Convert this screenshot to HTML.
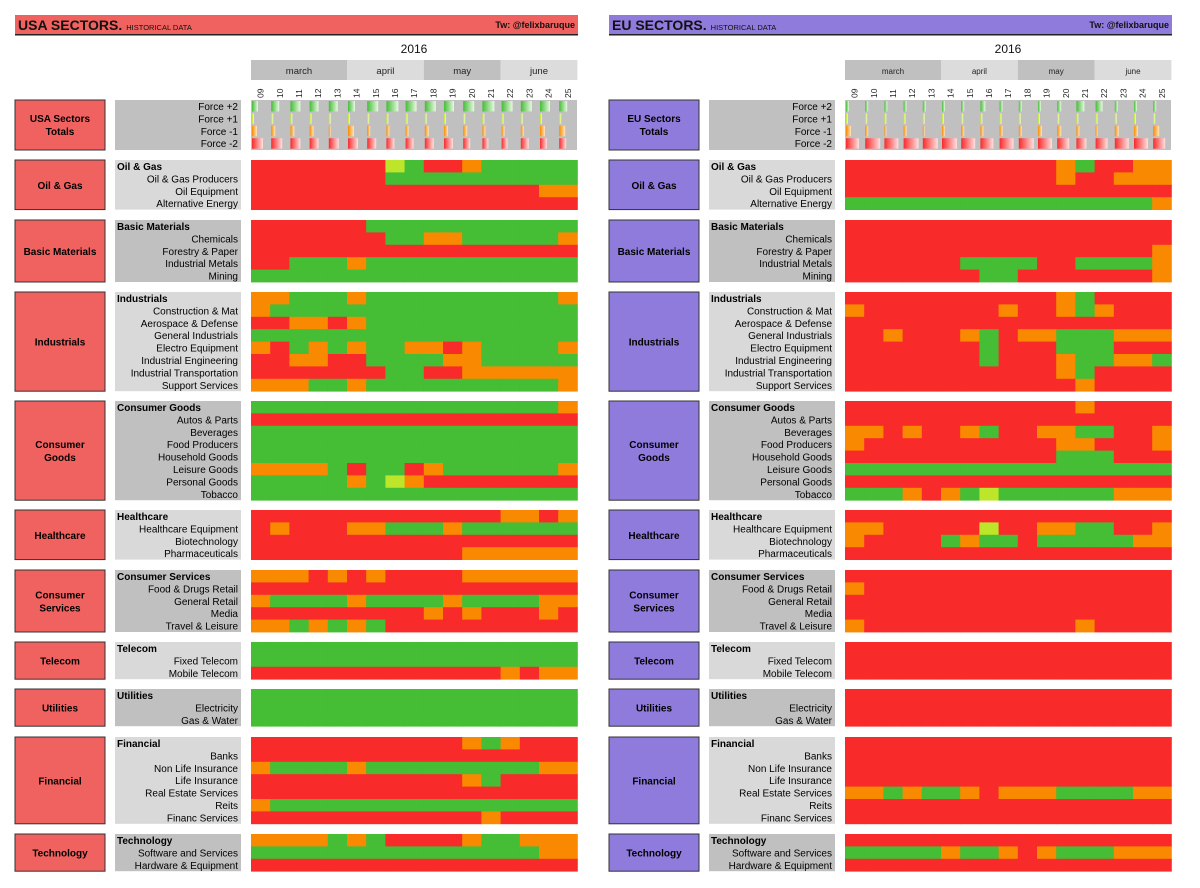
<!DOCTYPE html>
<html><head><meta charset="utf-8"><style>
html,body{margin:0;padding:0;background:#fff;width:1200px;height:888px;overflow:hidden}
svg{display:block;font-family:"Liberation Sans",sans-serif}
</style></head><body>
<svg id="c" width="1200" height="888" xmlns="http://www.w3.org/2000/svg">
<defs>
<linearGradient id="gG" x1="0" x2="1"><stop offset="0" stop-color="#45bd35"/><stop offset="1" stop-color="#e8f8e4"/></linearGradient>
<linearGradient id="gY" x1="0" x2="1"><stop offset="0" stop-color="#bde52a"/><stop offset="1" stop-color="#f0fac8"/></linearGradient>
<linearGradient id="gO" x1="0" x2="1"><stop offset="0" stop-color="#f98a00"/><stop offset="1" stop-color="#ffe6c0"/></linearGradient>
<linearGradient id="gR" x1="0" x2="1"><stop offset="0" stop-color="#f92a2a"/><stop offset="1" stop-color="#ffe0e0"/></linearGradient>
</defs>
</svg>
<script>
const weeks=["09","10","11","12","13","14","15","16","17","18","19","20","21","22","23","24","25"];
const months=["march","april","may","june"];
const monthSpans=[5,4,4,4];
const groupNames=["Oil & Gas","Basic Materials","Industrials","Consumer Goods","Healthcare","Consumer Services","Telecom","Utilities","Financial","Technology"];
const groupBoxNames=["Oil & Gas","Basic Materials","Industrials","Consumer|Goods","Healthcare","Consumer|Services","Telecom","Utilities","Financial","Technology"];
const subNames=[
["Oil & Gas Producers","Oil Equipment","Alternative Energy"],
["Chemicals","Forestry & Paper","Industrial Metals","Mining"],
["Construction & Mat","Aerospace & Defense","General Industrials","Electro Equipment","Industrial Engineering","Industrial Transportation","Support Services"],
["Autos & Parts","Beverages","Food Producers","Household Goods","Leisure Goods","Personal Goods","Tobacco"],
["Healthcare Equipment","Biotechnology","Pharmaceuticals"],
["Food & Drugs Retail","General Retail","Media","Travel & Leisure"],
["Fixed Telecom","Mobile Telecom"],
["Electricity","Gas & Water"],
["Banks","Non Life Insurance","Life Insurance","Real Estate Services","Reits","Financ Services"],
["Software and Services","Hardware & Equipment"]];
// R=strong negative, O=negative, G=positive, Y=strong positive
const usaStates=[
["RRRRRRRYGRROGGGGG","RRRRRRRGGGGGGGGGG","RRRRRRRRRRRRRRROO","RRRRRRRRRRRRRRRRR"],
["RRRRRRGGGGGGGGGGG","RRRRRRRGGOOGGGGGO","RRRRRRRRRRRRRRRRR","RRGGGOGGGGGGGGGGG","GGGGGGGGGGGGGGGGG"],
["OOGGGOGGGGGGGGGGO","OGGGGGGGGGGGGGGGG","RROOROGGGGGGGGGGG","GGGGGGGGGGGGGGGGG","ORGOGOGGOOROGGGGO","RROORRGGGGOOGGGGG","RRRRRRRGGRROOOOOO","OOOGGOGGGGGGGGGGO"],
["GGGGGGGGGGGGGGGGO","RRRRRRRRRRRRRRRRR","GGGGGGGGGGGGGGGGG","GGGGGGGGGGGGGGGGG","GGGGGGGGGGGGGGGGG","OOOOGRGGROGGGGGGO","GGGGGOGYORRRRRRRR","GGGGGGGGGGGGGGGGG"],
["RRRRRRRRRRRRROORO","RORRROOGGGOGGGGGG","RRRRRRRRRRRRRRRRR","RRRRRRRRRRROOOOOO"],
["OOORORORRRROOOOOO","RRRRRRRRRRRRRRRRR","OGGGGOGGGGOGGGGOO","RRRRRRRRRORORRROR","OOGOGOGRRRRRRRRRR"],
["GGGGGGGGGGGGGGGGG","GGGGGGGGGGGGGGGGG","RRRRRRRRRRRRROROO"],
["GGGGGGGGGGGGGGGGG","GGGGGGGGGGGGGGGGG","GGGGGGGGGGGGGGGGG"],
["RRRRRRRRRRROGORRR","RRRRRRRRRRRRRRRRR","OGGGGOGGGGGGGGGOO","RRRRRRRRRRROGRRRR","RRRRRRRRRRRRRRRRR","OGGGGGGGGGGGGGGGG","RRRRRRRRRRRRORRRR"],
["OOOOGOGRRRROGGOOO","GGGGGGGGGGGGGGGOO","RRRRRRRRRRRRRRRRR"]];
const euStates=[
["RRRRRRRRRRROGRROO","RRRRRRRRRRRORROOO","RRRRRRRRRRRRRRRRR","GGGGGGGGGGGGGGGGO"],
["RRRRRRRRRRRRRRRRR","RRRRRRRRRRRRRRRRR","RRRRRRRRRRRRRRRRO","RRRRRRGGGGRRGGGGO","RRRRRRRGGRRRRRRRO"],
["RRRRRRRRRRROGRRRR","ORRRRRRRORROGORRR","RRRRRRRRRRRRRRRRR","RRORRROGROOGGGOOO","RRRRRRRGRRRGGGRRR","RRRRRRRGRRROGGOOG","RRRRRRRRRRROGRRRR","RRRRRRRRRRRRORRRR"],
["RRRRRRRRRRRRORRRR","RRRRRRRRRRRRRRRRR","OORORROGRROOGGRRO","ORRRRRRRRRROORRRO","RRRRRRRRRRRGGGRRR","GGGGGGGGGGGGGGGGG","RRRRRRRRRRRRRRRRR","GGGOROGYGGGGGGOOO"],
["RRRRRRRRRRRRRRRRR","OORRRRRYRROOGGRRO","ORRRRGOGGRGGGGGOO","RRRRRRRRRRRRRRRRR"],
["RRRRRRRRRRRRRRRRR","ORRRRRRRRRRRRRRRR","RRRRRRRRRRRRRRRRR","RRRRRRRRRRRRRRRRR","ORRRRRRRRRRRORRRR"],
["RRRRRRRRRRRRRRRRR","RRRRRRRRRRRRRRRRR","RRRRRRRRRRRRRRRRR"],
["RRRRRRRRRRRRRRRRR","RRRRRRRRRRRRRRRRR","RRRRRRRRRRRRRRRRR"],
["RRRRRRRRRRRRRRRRR","RRRRRRRRRRRRRRRRR","RRRRRRRRRRRRRRRRR","RRRRRRRRRRRRRRRRR","OOGOGGOROOOGGGGOO","RRRRRRRRRRRRRRRRR","RRRRRRRRRRRRRRRRR"],
["RRRRRRRRRRRRRRRRR","GGGGGOGGOROGGGOOO","RRRRRRRRRRRRRRRRR"]];
// totals: counts of sectors per force level per week
const usaForce2=[6,8,10,9,9,7,11,12,11,11,10,11,12,11,11,10,8];
const usaForce1=[2,2,2,2,2,2,2,2,2,2,2,2,2,2,2,2,2];
const usaForceM1=[5,4,4,4,2,6,3,3,3,4,4,4,3,3,3,5,6];
const usaForceM2=[11,11,10,9,10,10,9,8,8,9,9,7,6,6,8,7,7];
const euForce2=[3,3,3,3,3,3,3,5,3,3,3,4,8,7,3,3,3];
const euForce1=[2,2,2,2,2,2,2,2,2,2,2,2,2,2,2,2,2];
const euForceM1=[5,3,2,3,2,3,3,3,3,3,4,4,3,2,4,4,6];
const euForceM2=[13,15,14,15,15,15,14,13,14,15,14,12,10,12,14,14,12];

const COL={R:"#f92a2a",O:"#f98a00",G:"#45bd35",Y:"#bde52a"};
const svg=document.getElementById('c');
const NS="http://www.w3.org/2000/svg";
function mk(tag,attrs,parent){const e=document.createElementNS(NS,tag);for(const k in attrs)e.setAttribute(k,attrs[k]);(parent||svg).appendChild(e);return e;}
function txt(s,attrs,parent){const e=mk('text',attrs,parent);e.textContent=s;return e;}
const CW=19.2, RH=12.4, GX0=251;
const groupTops=[160,220,292,401,510,570,642,689,737,834];
const xScale=(i,off)=>GX0+off+i*CW;
const yRow=(g,r)=>groupTops[g]+r*RH;

function panel(off,title,color,states,f2,f1,fm1,fm2,boxColor,prefix){
  const g=mk('g',{});
  
  
  const hb=mk('rect',{x:15+off,y:15,width:563,height:20,fill:color},g);
  
  mk('rect',{x:15+off,y:34,width:563,height:1.5,fill:'#222'},g);
  const t=txt(title,{x:18+off,y:30,'font-size':14,'font-weight':'bold',fill:'#111'},g);
  
  const tw=t.getComputedTextLength?t.getComputedTextLength():100;
  const st=txt('HISTORICAL DATA',{x:18+off+tw+4,y:30,'font-size':7.5,fill:'#111'},g);
  
  const tl=txt('Tw: @felixbaruque',{x:575+off,y:28,'font-size':9,'font-weight':'bold','text-anchor':'end',fill:'#111'},g);
  
  const yr=txt('2016',{x:GX0+off+163,y:53,'font-size':12,'text-anchor':'middle',fill:'#111'},g);
  
  let c=0;
  months.forEach((m,i)=>{
    const r=mk('rect',{x:xScale(c,off),y:60,width:monthSpans[i]*CW,height:20,fill:i%2?'#dcdcdc':'#c0c0c0'},g);
    
    const mt=txt(m,{x:xScale(c,off)+monthSpans[i]*CW/2,y:74,'font-size':off?8:9.5,'text-anchor':'middle',fill:'#222'},g);
    
    c+=monthSpans[i];
  });
  weeks.forEach((w,i)=>{
    const x=xScale(i,off)+CW/2+3, y=98;
    const wt=txt(w,{x:x,y:y,'font-size':8.5,transform:`rotate(-90 ${x} ${y})`,fill:'#222'},g);
    
  });
  const tb=mk('rect',{x:15+off,y:100,width:90,height:50,fill:boxColor,stroke:'#333','stroke-width':1},g);
  
  const tt=txt(prefix==='usa'?'USA Sectors':'EU Sectors',{x:60+off,y:122,'font-size':10,'font-weight':'bold','text-anchor':'middle'},g);
  
  txt('Totals',{x:60+off,y:135,'font-size':10,'font-weight':'bold','text-anchor':'middle'},g);
  mk('rect',{x:115+off,y:100,width:126,height:50,fill:'#c0c0c0'},g);
  mk('rect',{x:GX0+off,y:100,width:326,height:50,fill:'#c0c0c0'},g);
  ['Force +2','Force +1','Force -1','Force -2'].forEach((s,i)=>{
    const ft=txt(s,{x:238+off,y:110+i*12.4,'font-size':10,'text-anchor':'end'},g);
    
  });
  const fc=[['url(#gG)',f2],['url(#gY)',f1],['url(#gO)',fm1],['url(#gR)',fm2]];
  fc.forEach(([col,arr],k)=>{
    arr.forEach((v,i)=>{
      const b=mk('rect',{x:xScale(i,off)+1,y:101+k*12.4,width:v,height:10.5,fill:col},g);
      
      
    });
  });
  groupNames.forEach((gn,gi)=>{
    const n=subNames[gi].length+1;
    const top=groupTops[gi], h=n*RH;
    const bx=mk('rect',{x:15+off,y:top,width:90,height:h,fill:boxColor,stroke:'#333','stroke-width':1},g);
    
    const parts=groupBoxNames[gi].split('|');
    parts.forEach((p,pi)=>{
      const bt=txt(p,{x:60+off,y:top+h/2+4+(pi-(parts.length-1)/2)*13,'font-size':10,'font-weight':'bold','text-anchor':'middle'},g);
      
    });
    mk('rect',{x:115+off,y:top,width:126,height:h,fill:gi%2?'#c0c0c0':'#d9d9d9'},g);
    const ht=txt(gn,{x:117+off,y:top+10,'font-size':10,'font-weight':'bold'},g);
    
    subNames[gi].forEach((s,si)=>{
      const lt=txt(s,{x:238+off,y:top+10+(si+1)*RH,'font-size':10,'text-anchor':'end'},g);
      
    });
    states[gi].forEach((row,ri)=>{
      for(let i=0;i<weeks.length;i++){
        const ch=row[i]||'R';
        const cell=mk('rect',{x:xScale(i,off),y:yRow(gi,ri),width:CW+0.4,height:RH+0.4,fill:COL[ch]},g);
        
        
      }
    });
  });
}
panel(0,'USA SECTORS.','#f0625f',usaStates,usaForce2,usaForce1,usaForceM1,usaForceM2,'#f0625f','usa');
panel(594,'EU SECTORS.','#8f7bdc',euStates,euForce2,euForce1,euForceM1,euForceM2,'#8f7bdc','eu');
</script>
</body></html>
